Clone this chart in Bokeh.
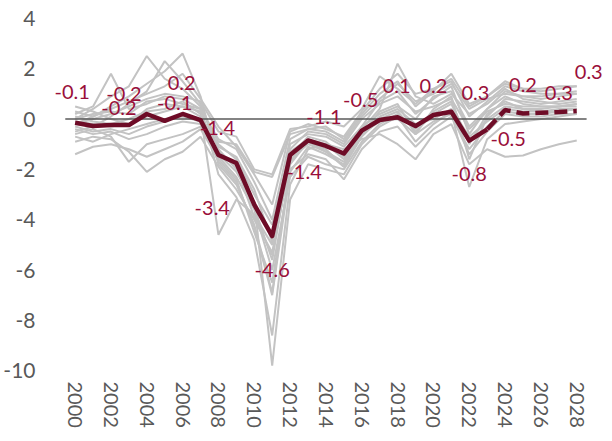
from bokeh.plotting import figure
from bokeh.models import FixedTicker, Range1d, ColumnDataSource
from bokeh.core.properties import value
from bokeh.embed import file_html
from bokeh.resources import INLINE

years = list(range(2000, 2029))

main = [-0.15, -0.28, -0.24, -0.24, 0.2, -0.07, 0.2, -0.04, -1.43, -1.75,
        -3.4, -4.65, -1.43, -0.85, -1.07, -1.37, -0.46, -0.04, 0.07, -0.28,
        0.16, 0.29, -0.86, -0.41, 0.36, 0.22, 0.25, 0.28, 0.32]
last_actual = 2023

g01 = [0.3, 0.1, 0.5, 0.9, 1.4, 1.9, 2.6, 0.9, -1.8, -2.6, -4.2, -6.9, -1.8, -0.9, -1.3, -1.9, -0.6, 0.3, 0.6, -0.6, 0.4, 0.9, -1.6, 0.1, 0.8, 0.7, 0.6, 0.7, 0.8]
g02 = [0.0, 0.4, 0.9, 1.3, 2.5, 1.6, 1.2, 0.5, -2.2, -3.1, -4.8, -8.6, -2.6, -1.2, -1.0, -1.6, -0.3, 0.7, 1.1, 0.2, 0.8, 1.3, -0.6, 0.4, 1.1, 0.9, 0.8, 0.9, 1.0]
g03 = [0.2, 0.5, 1.8, 0.4, 0.6, 0.9, 0.8, 0.4, -0.9, -1.0, -2.1, -2.3, -0.6, -0.4, -0.3, -0.8, 0.2, 1.0, 1.5, 0.5, 1.1, 1.8, 0.6, 0.9, 1.5, 1.2, 1.1, 1.2, 1.3]
g04 = [-0.5, -0.3, 0.1, 0.6, 1.1, 2.3, 1.5, 0.6, -1.2, -2.0, -3.5, -5.6, -1.5, -0.7, -0.9, -1.5, -0.4, 0.4, 2.2, 0.9, 0.6, 1.0, 0.2, 0.6, 1.2, 0.8, 0.7, 0.6, 0.7]
g05 = [-1.4, -1.1, -1.0, -1.2, -1.5, -1.2, -0.9, -0.4, -1.6, -2.4, -4.5, -6.5, -2.0, -1.4, -1.6, -2.4, -1.2, -0.5, -0.3, -1.1, -0.4, 0.1, -1.2, -0.3, 0.3, 0.2, 0.2, 0.3, 0.4]
g06 = [-0.9, -0.7, -0.8, -1.3, -2.1, -1.6, -1.3, -0.7, -1.9, -2.8, -4.0, -5.3, -1.7, -0.9, -1.2, -1.9, -0.7, 0.0, 0.3, -0.5, 0.2, 0.6, -0.9, 0.0, 0.5, 0.4, 0.4, 0.5, 0.5]
g07 = [-0.6, -0.4, -0.7, -1.7, -1.0, -0.8, -0.6, -0.3, -1.4, -2.1, -3.3, -9.8, -3.2, -1.8, -2.0, -2.2, -1.0, -0.3, 0.1, -0.9, -0.2, 0.3, -2.7, -0.8, -0.2, -0.1, 0.0, 0.1, 0.2]
g08 = [0.1, -0.1, -0.2, 0.0, 0.3, 0.4, 0.7, 0.2, -4.6, -3.2, -3.8, -5.0, -1.2, -0.5, -0.6, -1.0, 0.0, 0.6, 0.9, 0.3, 0.5, 0.8, -0.4, 0.3, 0.6, 0.5, 0.5, 0.5, 0.6]
g09 = [-0.2, 0.0, 0.2, 0.5, 0.8, 1.0, 0.9, 0.7, -0.5, -0.7, -2.0, -2.2, -0.4, -0.3, -0.1, -0.3, 0.4, 1.7, 1.2, 0.6, 1.2, 1.5, 0.1, 0.7, 1.3, 1.1, 1.0, 1.0, 1.1]
g10 = [-0.3, -0.5, -0.4, -0.6, -0.3, -0.1, 0.2, 0.0, -1.0, -1.6, -3.0, -4.2, -1.3, -0.8, -1.0, -1.2, -0.8, -0.6, -1.0, -1.6, -0.6, -0.2, -1.8, -1.2, -1.5, -1.45, -1.2, -1.0, -0.85]
g11 = [0.5, 0.3, 0.0, -0.2, 0.1, 0.3, 0.5, 0.3, -1.5, -2.3, -3.6, -6.0, -2.3, -1.5, -1.8, -2.0, -0.9, -0.2, 0.2, -0.4, 0.3, 0.7, -1.0, 0.2, 0.7, 0.4, 0.3, 0.3, 0.4]
g12 = [-0.1, -0.2, -0.3, -0.2, 0.4, 0.6, 0.5, 0.1, -1.1, -1.5, -2.8, -4.9, -1.0, -0.6, -0.7, -1.1, -0.3, 0.2, 0.5, 0.0, 0.9, 1.1, -0.3, 0.4, 0.9, 0.6, 0.5, 0.5, 0.6]
g13 = [-0.4, -0.6, -0.5, -0.8, -0.6, -0.3, -0.1, -0.2, -1.3, -1.9, -3.9, -5.4, -1.6, -1.0, -1.3, -1.7, -0.5, 0.1, 0.4, -0.2, 0.0, 0.4, -0.7, -0.1, 0.4, 0.3, 0.3, 0.4, 0.4]
g14 = [0.0, 0.2, 0.3, 0.2, 0.7, 0.8, 0.6, 0.4, -0.8, -1.2, -2.5, -4.0, -0.8, -0.4, -0.5, -0.9, 0.1, 0.8, 1.4, 0.7, 1.0, 1.4, 0.4, 0.8, 1.0, 0.9, 0.9, 1.0, 1.0]
g15 = [-0.7, -0.9, -0.6, -0.4, -0.2, 0.0, 0.1, -0.1, -1.7, -2.5, -4.3, -7.0, -2.1, -1.1, -1.4, -1.8, -0.6, -0.1, 0.0, -0.6, -0.1, 0.2, -1.4, -0.5, 0.2, 0.1, 0.1, 0.2, 0.2]
g16 = [-0.2, 0.1, 0.4, 0.7, 1.0, 1.3, 1.8, 0.8, -0.3, -1.1, -2.2, -3.4, -0.5, -0.2, -0.4, -0.7, 0.3, 1.2, 1.8, 1.0, 1.2, 1.6, 0.5, 0.9, 1.4, 1.2, 1.2, 1.3, 1.3]
gray_series = [g01, g02, g03, g04, g05, g06, g07, g08, g09, g10, g11, g12, g13, g14, g15, g16]

# data labels: year of the main-series point they belong to, and their text
label_years = [2000, 2003, 2002, 2006, 2005, 2008, 2010, 2011, 2012, 2014,
               2016, 2018, 2020, 2021, 2022, 2023, 2025, 2027, 2028]
label_texts = ["-0.1", "-0.2", "-0.2", "0.2", "-0.1", "-1.4", "-3.4", "-4.6", "-1.4", "-1.1",
               "-0.5", "0.1", "0.2", "0.3", "-0.8", "-0.5", "0.2", "0.3", "0.3"]
# pixel offsets of the labels (style)
label_dx = [-3, -5, 8, -1, 10, -1, -42, 0, 14, -2, -1, -1, 0, 24, 0, 21, 0, 0, 12]
label_dy = [-31, -31, -17, -31, -18, -27, 3, 34, 17, -29, -31, -31, -29, -19, 33, 10, -28, -19, -39]

y_ticks = [-10, -8, -6, -4, -2, 0, 2, 4]
x_ticks = list(range(2000, 2029, 2))

FONT = "Lato"
MAROON = "#6e0c27"
LABEL_RED = "#9a0f3a"
GRAY = "#c3c3c3"
TICK = "#595959"

px_per_year = 18.14
frame_px = 604 - 40
left = years[0] - 0.55 - 18 / px_per_year
p = figure(width=604, height=433, output_backend="svg", toolbar_location=None,
           x_range=Range1d(left, left + frame_px / px_per_year),
           y_range=Range1d(-10.15, 4.55),
           min_border_left=40, min_border_right=0, min_border_top=4, min_border_bottom=59)
p.outline_line_color = None
p.grid.visible = False
p.background_fill_color = "white"

for s in gray_series:
    p.line(years, s, line_color=GRAY, line_width=2)

p.line([years[0] - 0.55, years[-1] + 0.55], [0, 0], line_color="#5a5a5a", line_width=1.5)

i_last = years.index(last_actual)
p.line(years[:i_last + 1], main[:i_last + 1], line_color=MAROON, line_width=4.5, line_join="round")
p.line(years[i_last:], main[i_last:], line_color=MAROON, line_width=4.5, line_dash="13 6")

lab_y = [main[years.index(y)] for y in label_years]
src = ColumnDataSource(dict(x=label_years, y=lab_y, t=label_texts, dx=label_dx, dy=label_dy))
p.text(x="x", y="y", text="t", x_offset="dx", y_offset="dy", source=src,
       text_align="center", text_baseline="middle", text_color=LABEL_RED,
       text_font=value(FONT), text_font_size="20px")

p.xaxis.ticker = FixedTicker(ticks=x_ticks)
p.yaxis.ticker = FixedTicker(ticks=y_ticks)
p.yaxis.major_label_overrides = {t: str(t) for t in y_ticks}
for ax in (p.xaxis, p.yaxis):
    ax.axis_line_color = None
    ax.major_tick_line_color = None
    ax.minor_tick_line_color = None
    ax.major_label_text_font = FONT
    ax.major_label_text_color = TICK
p.yaxis.major_label_text_font_size = "21px"
p.yaxis.major_label_standoff = 6
p.xaxis.major_label_text_font_size = "20px"
p.xaxis.major_label_orientation = "vertical"
p.xaxis.major_label_standoff = 1

open("out.html", "w").write(file_html(p, INLINE))
